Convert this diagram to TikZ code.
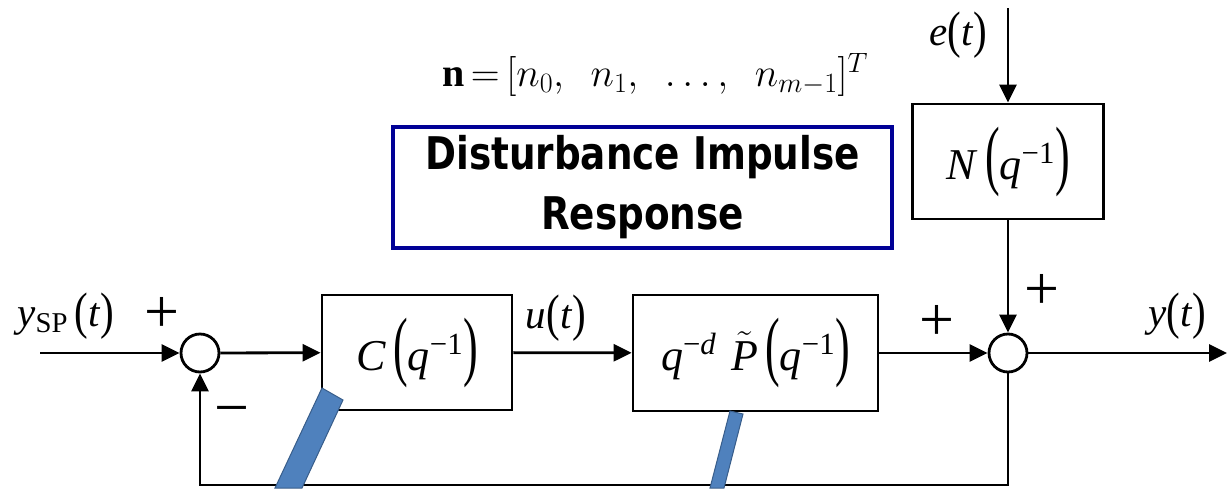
\RequirePackage{fix-cm}
\documentclass[tikz,border=0pt]{standalone}
\usepackage{graphicx}
\usepackage{fontspec}
\setmainfont{Liberation Serif}
\newfontfamily\tah{DejaVu Sans}[FakeStretch=0.83]
\usetikzlibrary{arrows.meta}
\definecolor{barblue}{RGB}{79,129,189}
\definecolor{bardark}{RGB}{56,93,138}
\definecolor{boxnavy}{RGB}{0,0,150}
\newcommand{\ti}[1]{\textit{#1}}
\newcommand{\lpb}{\raisebox{-0.02em}{\scalebox{1}[1.75]{(}}}
\newcommand{\rpb}{\raisebox{-0.02em}{\scalebox{1}[1.75]{)}}}
\newcommand{\lps}{\raisebox{-0.04em}{\scalebox{1}[1.25]{(}}}
\newcommand{\rps}{\raisebox{-0.04em}{\scalebox{1}[1.25]{)}}}
\begin{document}
\begin{tikzpicture}[x=1pt,y=-1pt,
  arr/.style={line width=2.8pt,-{Triangle[length=18pt,width=17pt]}},
  blk/.style={draw,line width=2.8pt,inner sep=0pt,font=\fontsize{44}{50}\selectfont},
  sumc/.style={circle,draw,line width=2.8pt,minimum size=38pt,inner sep=0pt},
  sign/.style={inner sep=0pt,font=\fontsize{62}{62}\selectfont},
  sig/.style={inner sep=0pt,font=\fontsize{41}{48}\selectfont},
  bar/.style={fill=barblue,draw=bardark,line width=1pt}]
\useasboundingbox (0,0) rectangle (1227,488);
% blocks
\node[blk,minimum width=190pt,minimum height=115pt] (C) at (417,352.5)
  {\ti{C}\,\lpb\ti{q}\textsuperscript{−1}\rpb};
\node[blk,minimum width=245pt,minimum height=116pt] (P) at (755.5,353)
  {\ti{q}\textsuperscript{−\ti{d}}\,\,$\tilde{\mbox{\itshape P}}$\,\lpb\ti{q}\textsuperscript{−1}\rpb};
\node[blk,minimum width=191pt,minimum height=115pt] (N) at (1008,161.5)
  {\ti{N}\,\lpb\ti{q}\textsuperscript{−1}\rpb};
\node[sumc] (s1) at (200,353) {};
\node[sumc] (s2) at (1008,353) {};
% disturbance box
\node[draw=boxnavy,line width=3.5pt,minimum width=499pt,minimum height=121pt,
  align=center,inner sep=0pt,font=\tah\bfseries\fontsize{45}{60}\selectfont] (D) at (642.5,187.5)
  {Disturbance Impulse\\Response};
\node[inner sep=0pt,font=\fontsize{40}{44}\selectfont] (neq) at (655,75)
  {$\mathbf{n}\mskip-2mu=\mskip-2mu[n_0,\ \ n_1,\ \ \ldots,\ \ n_{m-1}]^T$};
% coordinates
\coordinate (in) at (40,353);
\coordinate (out) at (1227,353);
\coordinate (etop) at (1008,8);
\coordinate (fb) at (1008,485);
% connectors
\draw[arr] (in) -- (s1);
\draw[arr] (s1) -- (C);
\draw[arr] (C) -- (P);
\draw[arr] (P) -- (s2);
\draw[arr] (s2) -- (out);
\draw[arr] (etop) -- (N);
\draw[arr] (N) -- (s2);
\draw[arr] (s2.south) -- (fb) -| (s1.south);
% labels
\node[sig] (lysp) at (66,316) {\ti{y}\textsubscript{SP}\,\lps\ti{t}\rps};
\node[sig] (lu) at (556,318) {\ti{u}\lps\ti{t}\rps};
\node[sig] (ly) at (1177,316) {\ti{y}\lps\ti{t}\rps};
\node[sig] (le) at (958,35) {\ti{e}\lps\ti{t}\rps};
\node[sign] (p1) at (162,315) {+};
\node[sign] (m1) at (232,417) {−};
\node[sign] (p2) at (937,323) {+};
\node[sign] (p3) at (1042,292) {+};
% overlay bars
\draw[bar] (322,388) -- (343,400) -- (302,488) -- (275,488) -- cycle;
\draw[bar] (730,411) -- (743,414) -- (724,488) -- (710,488) -- cycle;
\end{tikzpicture}
\end{document}
